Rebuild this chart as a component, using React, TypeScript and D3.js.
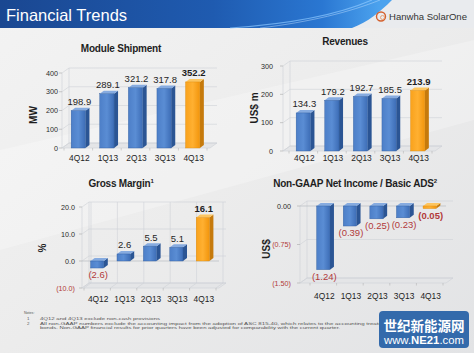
import * as d3 from "d3";

const quarters = ["4Q12", "1Q13", "2Q13", "3Q13", "4Q13"];
const shipmentMW = [198.9, 289.1, 321.2, 317.8, 352.2];
const revenueUSDm = [134.3, 179.2, 192.7, 185.5, 213.9];
const grossMarginPct = [-2.6, 2.6, 5.5, 5.1, 16.1];
const netIncomeADS = [-1.24, -0.39, -0.25, -0.23, -0.05];
const shipmentTicks = [0, 100, 200, 300, 400];
const revenueTicks = [0, 100, 200, 300];
const marginTicks = [-10, 0, 10, 20];
const incomeTicks = [-1.5, -0.75, 0];
const footnotes = [
  "4Q12  and 4Q13 exclude non-cash provisions",
  "All non-GAAP numbers exclude the accounting impact from the adoption of ASC 815-40, which relates to the accounting treatment of convertible",
  "bonds.  Non-GAAP financial results for prior quarters have been adjusted for comparability with the current quarter.",
];

const FONT = "'Liberation Sans', Arial, sans-serif";
const RED = "#b23a3a";
const TEXT = "#1e1e1e";
const WALL = "#cfd2d6";

// wall depth / bar depth
const DX = 7;
const DY = 5;
const BX = 4;
const BY = 3;

const paren = (v: number, digits: number) =>
  v < 0 ? `(${Math.abs(v).toFixed(digits)})` : v.toFixed(digits);

type ChartProps = {
  title: string;
  sup?: string;
  titleX: number;
  titleY: number;
  yLabel: string;
  yLabelX: number;
  yLabelY: number;
  values: number[];
  ticks: number[];
  yDomain: [number, number];
  yRange: [number, number];
  xRange: [number, number];
  wallX: number;
  tickX: number;
  xLabelY: number;
  tickFmt: (v: number) => string;
  valFmt: (v: number) => string;
  columns?: boolean;
};

function Bar3D({ x, w, y0, y1, last }: { x: number; w: number; y0: number; y1: number; last: boolean }) {
  const top = Math.min(y0, y1);
  const bot = Math.max(y0, y1);
  const c = last
    ? { front: "url(#orangeFront)", side: "#c67a0c", top: "#fdc55f", edge: "#d98a10" }
    : { front: "url(#blueFront)", side: "#2b5594", top: "#86abe0", edge: "#2f5c9e" };
  return (
    <g>
      <polygon
        points={`${x + w},${top} ${x + w + BX},${top - BY} ${x + w + BX},${bot - BY} ${x + w},${bot}`}
        fill={c.side}
      />
      <polygon
        points={`${x},${top} ${x + BX},${top - BY} ${x + w + BX},${top - BY} ${x + w},${top}`}
        fill={c.top}
      />
      <rect x={x} y={top} width={w} height={Math.max(bot - top, 0.8)} fill={c.front} stroke={c.edge} strokeWidth={0.4} />
    </g>
  );
}

function Chart(p: ChartProps) {
  const y = d3.scaleLinear().domain(p.yDomain).range(p.yRange);
  const x = d3.scaleBand().domain(quarters).range(p.xRange).paddingInner(0.5).paddingOuter(0.25);
  const bw = x.bandwidth();
  const yMin = y(p.yDomain[0]);
  const yMax = y(p.yDomain[1]);
  const right = p.xRange[1] + 3;
  const bounds = d3.range(quarters.length + 1).map((i) => p.xRange[0] + i * x.step());

  return (
    <g fontFamily={FONT}>
      {/* walls */}
      <polygon
        points={`${p.wallX},${yMin} ${right},${yMin} ${right + DX},${yMin - DY} ${p.wallX + DX},${yMin - DY}`}
        fill="#e4e5e7"
        stroke={WALL}
        strokeWidth={0.6}
      />
      <line x1={p.wallX} x2={p.wallX} y1={yMax} y2={yMin} stroke={WALL} strokeWidth={0.6} />
      <line x1={p.wallX + DX} x2={p.wallX + DX} y1={yMax - DY} y2={yMin - DY} stroke={WALL} strokeWidth={0.6} />
      {p.ticks.map((t) => (
        <g key={t}>
          <line x1={p.wallX + DX} x2={right + DX} y1={y(t) - DY} y2={y(t) - DY} stroke={WALL} strokeWidth={0.6} />
          <line x1={p.wallX} x2={p.wallX + DX} y1={y(t)} y2={y(t) - DY} stroke={WALL} strokeWidth={0.6} />
          <line x1={p.wallX - 3} x2={p.wallX} y1={y(t)} y2={y(t)} stroke="#aaa" strokeWidth={0.6} />
        </g>
      ))}
      {p.columns &&
        bounds.map((b, i) => (
          <g key={i}>
            <line x1={b + DX} x2={b + DX} y1={yMax - DY} y2={yMin - DY} stroke={WALL} strokeWidth={0.6} />
            <line x1={b} x2={b + DX} y1={yMin} y2={yMin - DY} stroke={WALL} strokeWidth={0.6} />
          </g>
        ))}
      {p.yDomain[0] < 0 && (
        <line x1={p.wallX} x2={right} y1={y(0)} y2={y(0)} stroke="#b8bcc2" strokeWidth={0.7} />
      )}
      {bounds.map((b, i) => (
        <line key={i} x1={b} x2={b} y1={yMin} y2={yMin + 2.5} stroke="#aaa" strokeWidth={0.5} />
      ))}

      {/* bars */}
      {p.values.map((v, i) => (
        <Bar3D key={i} x={x(quarters[i])!} w={bw} y0={y(0)} y1={y(v)} last={i === quarters.length - 1} />
      ))}

      {/* value labels */}
      {p.values.map((v, i) => (
        <text
          key={i}
          x={x(quarters[i])! + bw / 2 + 1}
          y={v >= 0 ? y(v) - BY - 2.5 : y(v) + 10}
          textAnchor="middle"
          fontSize={9.5}
          fontWeight={i === quarters.length - 1 ? "bold" : "normal"}
          fill={v < 0 ? RED : TEXT}
        >
          {p.valFmt(v)}
        </text>
      ))}

      {/* axes text */}
      {p.ticks.map((t) => (
        <text key={t} x={p.tickX} y={y(t) + 2.6} textAnchor="end" fontSize={7.2} fill={t < 0 ? RED : "#2a2a2a"}>
          {p.tickFmt(t)}
        </text>
      ))}
      {quarters.map((q) => (
        <text key={q} x={x(q)! + bw / 2 + 1} y={p.xLabelY} textAnchor="middle" fontSize={8.4} fill={TEXT}>
          {q}
        </text>
      ))}
      <text
        transform={`translate(${p.yLabelX},${p.yLabelY}) rotate(-90)`}
        textAnchor="middle"
        fontSize={10}
        fontWeight="bold"
        fill={TEXT}
      >
        {p.yLabel}
      </text>
      <text x={p.titleX} y={p.titleY} textAnchor="middle" fontSize={10} fontWeight="bold" fill={TEXT} letterSpacing={-0.2}>
        {p.title}
        {p.sup && (
          <tspan fontSize={6} dy={-4}>
            {p.sup}
          </tspan>
        )}
      </text>
    </g>
  );
}

export default function App() {
  return (
    <svg
      width={474}
      height={353}
      viewBox="0 0 474 353"
      style={{ position: "absolute", left: 0, top: 0, display: "block" }}
      fontFamily={FONT}
    >
      <defs>
        <linearGradient id="bg" x1="0" y1="0" x2="1" y2="1">
          <stop offset="0" stopColor="#f3f3f3" />
          <stop offset="0.5" stopColor="#ececec" />
          <stop offset="1" stopColor="#e2e3e5" />
        </linearGradient>
        <linearGradient id="header" x1="0" y1="0" x2="1" y2="0">
          <stop offset="0" stopColor="#1a4791" />
          <stop offset="0.45" stopColor="#1f5bb0" />
          <stop offset="0.68" stopColor="#2a77d2" />
          <stop offset="0.8" stopColor="#4ba2ee" />
        </linearGradient>
        <linearGradient id="blueFront" x1="0" y1="0" x2="1" y2="0">
          <stop offset="0" stopColor="#4d7fc8" />
          <stop offset="0.5" stopColor="#5a8dd4" />
          <stop offset="1" stopColor="#3d6db6" />
        </linearGradient>
        <linearGradient id="orangeFront" x1="0" y1="0" x2="1" y2="0">
          <stop offset="0" stopColor="#f9a21c" />
          <stop offset="0.5" stopColor="#ffb031" />
          <stop offset="1" stopColor="#f2950c" />
        </linearGradient>
      </defs>

      {/* background and header band */}
      <rect width={474} height={353} fill="url(#bg)" />
      <polygon points="0,150 474,40 474,120 0,250" fill="#ffffff" opacity={0.25} />
      <rect width={474} height={28} fill="url(#header)" />
      <path d="M392,0 C380,12 368,22 352,28 L474,28 L474,0 Z" fill="#e9ebee" />
      <path d="M230,28 C290,24 340,14 372,0" fill="none" stroke="#8cc8ff" strokeWidth={1.2} opacity={0.7} />
      <path d="M260,28 C310,22 350,12 380,0" fill="none" stroke="#bfe0ff" strokeWidth={0.8} opacity={0.6} />
      <text x={6} y={21} fontSize={16.5} fill="#ffffff">
        Financial Trends
      </text>
      <circle cx={381} cy={16.5} r={4.5} fill="none" stroke="#d4612e" strokeWidth={1.4} />
      <circle cx={382.5} cy={17.5} r={2} fill="none" stroke="#e89a6a" strokeWidth={0.9} />
      <text x={389} y={19.5} fontSize={8.5} fill="#333" textLength={78} lengthAdjust="spacingAndGlyphs">
        Hanwha SolarOne
      </text>

      <Chart
        title="Module Shipment"
        titleX={121}
        titleY={52}
        yLabel="MW"
        yLabelX={37}
        yLabelY={115}
        values={shipmentMW}
        ticks={shipmentTicks}
        yDomain={[0, 400]}
        yRange={[148, 73]}
        xRange={[64, 207]}
        wallX={62}
        tickX={58}
        xLabelY={161}
        tickFmt={(v) => String(v)}
        valFmt={(v) => v.toFixed(1)}
      />
      <Chart
        title="Revenues"
        titleX={345}
        titleY={45}
        yLabel="US$ m"
        yLabelX={258}
        yLabelY={108}
        values={revenueUSDm}
        ticks={revenueTicks}
        yDomain={[0, 300]}
        yRange={[151, 66]}
        xRange={[289, 432]}
        wallX={283}
        tickX={273}
        xLabelY={161}
        tickFmt={(v) => String(v)}
        valFmt={(v) => v.toFixed(1)}
      />
      <Chart
        title="Gross Margin"
        sup="1"
        titleX={121}
        titleY={187}
        yLabel="%"
        yLabelX={46}
        yLabelY={248}
        values={grossMarginPct}
        ticks={marginTicks}
        yDomain={[-10, 20]}
        yRange={[288, 207]}
        xRange={[84, 216]}
        wallX={82}
        tickX={75}
        xLabelY={302}
        tickFmt={(v) => paren(v, 1)}
        valFmt={(v) => paren(v, 1)}
        columns
      />
      <Chart
        title="Non-GAAP Net Income / Basic ADS"
        sup="2"
        titleX={355}
        titleY={187}
        yLabel="US$"
        yLabelX={270}
        yLabelY={249}
        values={netIncomeADS}
        ticks={incomeTicks}
        yDomain={[-1.5, 0]}
        yRange={[283, 206]}
        xRange={[310, 443]}
        wallX={300}
        tickX={291}
        xLabelY={299}
        tickFmt={(v) => paren(v, 2)}
        valFmt={(v) => paren(v, 2)}
      />

      {/* notes */}
      <g fill="#555" fontSize={4.4}>
        <text x={24} y={314} fontSize={3.6}>
          Notes:
        </text>
        <text x={27} y={320}>1</text>
        <text x={40} y={320} textLength={120} lengthAdjust="spacingAndGlyphs">
          {footnotes[0]}
        </text>
        <text x={27} y={324.8}>2</text>
        <text x={40} y={324.8} textLength={390} lengthAdjust="spacingAndGlyphs">
          {footnotes[1]}
        </text>
        <text x={40} y={329.4} textLength={300} lengthAdjust="spacingAndGlyphs">
          {footnotes[2]}
        </text>
      </g>

      {/* watermark */}
      <rect x={379} y={311} width={90} height={37} rx={4} fill="#336aab" />
      <text x={424} y={331} textAnchor="middle" fontSize={13.5} fontWeight="bold" fill="#ffffff" fontFamily="'Noto Sans CJK SC', sans-serif">
        世纪新能源网
      </text>
      <text x={424} y={343.5} textAnchor="middle" fontSize={10} fill="#ffffff" textLength={80} lengthAdjust="spacingAndGlyphs">
        www.<tspan fontWeight="bold">NE21</tspan>.com
      </text>
    </svg>
  );
}
